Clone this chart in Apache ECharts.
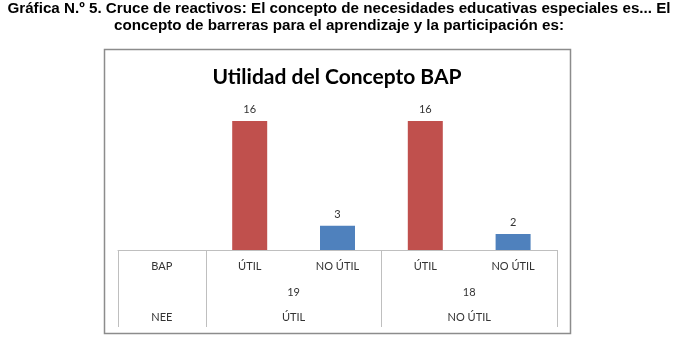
<!DOCTYPE html>
<html>
<head>
<meta charset="utf-8">
<script src="https://cdn.jsdelivr.net/npm/echarts@6/dist/echarts.min.js"></script>
<style>
  html, body { margin: 0; padding: 0; background: #fff; }
  #chart { width: 681px; height: 344px; }
</style>
</head>
<body>
<div id="chart"></div>
<script>
// categories of the BAP row (first cell is the row header)
const bapLabels = ['BAP', 'ÚTIL', 'NO ÚTIL', 'ÚTIL', 'NO ÚTIL']
const values = [null, 16, 3, 16, 2]
const barColors = ['#C0504D', '#C0504D', '#4F81BD', '#C0504D', '#4F81BD']
// second and third table rows, placed on a 0..5 scale (one unit per column)
const totalPos = [2, 4]
const totalLabels = ['19', '18']
const neePos = [0.5, 2, 4]
const neeLabels = ['NEE', 'ÚTIL', 'NO ÚTIL']
const cellBorders = [0, 1, 3, 5]

const labelFont = { fontFamily: 'Lato', fontSize: 11, color: '#333' }

const myChart = echarts.init(document.getElementById('chart'))
const rowAxis = (offset, pos, names, ticks) => ({
  type: 'value',
  min: 0,
  max: 5,
  position: 'bottom',
  offset: offset,
  splitLine: { show: false },
  axisLine: { show: false },
  axisTick: ticks
    ? { show: true, customValues: ticks, length: 77, lineStyle: { color: '#bfbfbf' } }
    : { show: false },
  axisLabel: names
    ? Object.assign({
        show: true,
        margin: 11,
        customValues: pos,
        formatter: (v) => names[pos.indexOf(v)]
      }, labelFont)
    : { show: false }
})

const option = {
  animation: false,
  title: [
    {
      text: 'Gráfica N.º 5. Cruce de reactivos: El concepto de necesidades educativas especiales es... El\nconcepto de barreras para el aprendizaje y la participación es:',
      left: 339,
      top: 0,
      padding: 0,
      textAlign: 'center',
      textStyle: {
        fontFamily: 'Liberation Sans',
        fontWeight: 'bold',
        fontSize: 15.2,
        lineHeight: 17,
        color: '#000'
      }
    },
    {
      text: 'Utilidad del Concepto BAP',
      left: 332,
      top: 62,
      textAlign: 'center',
      textStyle: {
        fontFamily: 'Lato',
        fontWeight: 'bold',
        fontSize: 21,
        color: '#000'
      }
    }
  ],
  graphic: [
    {
      type: 'rect',
      shape: { x: 104.5, y: 49.5, width: 466, height: 284 },
      style: { fill: 'none', stroke: '#8c8c8c', lineWidth: 1.5 },
      silent: true
    }
  ],
  grid: { left: 118, right: 124, top: 105, bottom: 94 },
  xAxis: [
    {
      type: 'category',
      data: bapLabels,
      position: 'bottom',
      axisLine: { show: true, lineStyle: { color: '#bfbfbf' } },
      axisTick: { show: false },
      axisLabel: Object.assign({ margin: 11, interval: 0 }, labelFont)
    },
    rowAxis(0, null, null, cellBorders),
    rowAxis(26, totalPos, totalLabels),
    rowAxis(51, neePos, neeLabels)
  ],
  yAxis: {
    type: 'value',
    min: 0,
    max: 18,
    show: false
  },
  series: [
    {
      type: 'bar',
      xAxisIndex: 0,
      barWidth: 35,
      data: values.map((v, i) => ({ value: v, itemStyle: { color: barColors[i] } })),
      label: {
        show: true,
        position: 'top',
        distance: 6,
        fontFamily: 'Lato',
        fontSize: 11,
        color: '#333'
      }
    }
  ]
}
myChart.setOption(option)
</script>
</body>
</html>
